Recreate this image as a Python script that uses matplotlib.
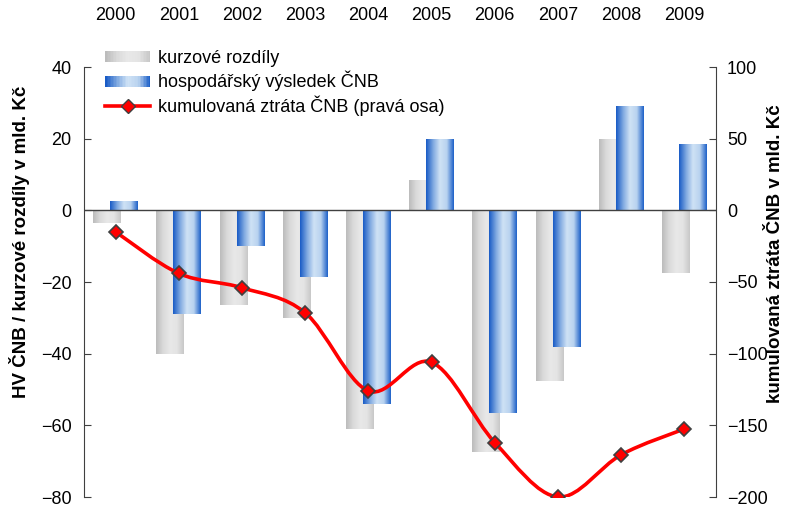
import numpy as np
import matplotlib
matplotlib.use("Agg")
import matplotlib.pyplot as plt
from matplotlib.colors import LinearSegmentedColormap
from matplotlib.patches import Rectangle
from matplotlib.path import Path
from matplotlib.patches import PathPatch
from matplotlib.legend_handler import HandlerBase
from matplotlib.lines import Line2D

plt.rcParams['font.family'] = ['Liberation Sans', 'DejaVu Sans']

# ── Data ──
years = ['2000', '2001', '2002', '2003', '2004', '2005', '2006', '2007', '2008', '2009']
kurzove_rozdily = [-3.5, -40, -26.5, -30, -61, 8.5, -67.5, -47.5, 20, -17.5]
hosp_vysledek = [2.5, -29, -10, -18.5, -54, 20, -56.5, -38, 29, 18.5]
kumulovana_ztrata = [-15, -44, -54, -71.5, -126, -106, -162, -200, -170.5, -152.5]

GREY_CMAP = LinearSegmentedColormap.from_list(
    'grey_grad', ['#bcbcbc', '#dadada', '#e8e8e8', '#e4e4e4', '#c8c8c8'])
BLUE_CMAP = LinearSegmentedColormap.from_list(
    'blue_grad', ['#1a5cc6', '#7ea8e0', '#cfe2f5', '#b8d2ef', '#1f62c9'])
GRADIENT = np.linspace(0, 1, 64).reshape(1, -1)
FS = 13
W, H = 787, 507


def gradient_bars(ax, xs, heights, width, cmap, zorder):
    for x, h in zip(xs, heights):
        x0 = x - width / 2
        rect = Rectangle((x0, min(0, h)), width, abs(h), facecolor='none',
                         edgecolor='none')
        ax.add_patch(rect)
        im = ax.imshow(GRADIENT, cmap=cmap, aspect='auto', interpolation='bilinear',
                       extent=[x0, x0 + width, min(0, h), max(0, h)], zorder=zorder)
        im.set_clip_path(rect)


class HandlerGradient(HandlerBase):
    def __init__(self, cmap):
        super().__init__()
        self.cmap = cmap

    def create_artists(self, legend, orig_handle, xdescent, ydescent,
                       width, height, fontsize, trans):
        n = 30
        artists = []
        h = height * 0.85
        for i in range(n):
            r = Rectangle((-xdescent + width * i / n, -ydescent + (height - h) / 2),
                          width / n * 1.05, h, facecolor=self.cmap(i / (n - 1)),
                          edgecolor='none', transform=trans)
            artists.append(r)
        return artists


def smooth_path(xs, ys):
    # Excel-like smoothed line: cubic Bezier segments through each point
    pts = np.column_stack([xs, ys]).astype(float)
    verts = [pts[0]]
    codes = [Path.MOVETO]
    n = len(pts)
    for i in range(n - 1):
        p_prev = pts[i - 1] if i > 0 else pts[i]
        p_next2 = pts[i + 2] if i + 2 < n else pts[i + 1]
        c1 = pts[i] + (pts[i + 1] - p_prev) / 6
        c2 = pts[i + 1] - (p_next2 - pts[i]) / 6
        verts += [c1, c2, pts[i + 1]]
        codes += [Path.CURVE4] * 3
    return Path(verts, codes)


# ── Figure ──
fig = plt.figure(figsize=(W / 100, H / 100), dpi=100)
ax = fig.add_axes([84 / W, 10 / H, 632 / W, 430 / H])
ax2 = ax.twinx()

x = np.arange(len(years))
bar_w = 0.44
off = 0.135
gradient_bars(ax, x - off, kurzove_rozdily, bar_w, GREY_CMAP, zorder=2)
gradient_bars(ax, x + off, hosp_vysledek, bar_w, BLUE_CMAP, zorder=3)
ax.axhline(0, color='#404040', lw=1, zorder=4)

ax.set_xlim(-0.5, len(years) - 0.5)
ax.set_ylim(-80, 40)
ax.set_yticks(np.arange(-80, 41, 20))
ax.set_xticks(x)
ax.set_xticklabels(years)
ax.xaxis.tick_top()
ax.tick_params(axis='x', length=0, pad=31, labelsize=FS)
ax.tick_params(axis='y', direction='in', length=5, labelsize=FS, pad=9,
               color='#404040')
for s in ['top', 'bottom', 'right']:
    ax.spines[s].set_visible(False)
ax.spines['left'].set_color('#404040')

# ── Cumulative loss (right axis) ──
ax2.add_patch(PathPatch(smooth_path(x, kumulovana_ztrata), facecolor='none',
                        edgecolor='#ff0000', lw=2.6, zorder=5))
ax2.plot(x, kumulovana_ztrata, linestyle='none', marker='D', markersize=7,
         markerfacecolor='#ff0000', markeredgecolor='#404040',
         markeredgewidth=1.2, zorder=6)
ax2.set_ylim(-200, 100)
ax2.set_yticks(np.arange(-200, 101, 50))
ax2.tick_params(axis='y', direction='in', length=5, labelsize=FS, pad=8,
                color='#404040')
for s in ['top', 'bottom', 'left']:
    ax2.spines[s].set_visible(False)
ax2.spines['right'].set_color('#404040')

# ── Axis titles ──
fig.text(20 / W, 1 - 242 / H, 'HV ČNB / kurzové rozdíly v mld. Kč', rotation=90,
         ha='center', va='center', fontsize=13.5, fontweight='bold')
fig.text(776 / W, 1 - 254 / H, 'kumulovaná ztráta ČNB v mld. Kč', rotation=90,
         ha='center', va='center', fontsize=13.5, fontweight='bold')

# ── Legend ──
h_grey = Rectangle((0, 0), 1, 1)
h_blue = Rectangle((0, 0), 1, 1)
h_line = Line2D([], [], color='#ff0000', lw=2.6, marker='D', markersize=7,
                markerfacecolor='#ff0000', markeredgecolor='#404040')
ax2.legend([h_grey, h_blue, h_line],
           ['kurzové rozdíly', 'hospodářský výsledek ČNB',
            'kumulovaná ztráta ČNB (pravá osa)'],
           handler_map={h_grey: HandlerGradient(GREY_CMAP),
                        h_blue: HandlerGradient(BLUE_CMAP)},
           loc='upper left', bbox_to_anchor=(105 / W, 1 - 50 / H),
           bbox_transform=fig.transFigure, frameon=False, fontsize=FS,
           handlelength=2.5, handletextpad=0.45, labelspacing=0.22,
           borderpad=0, borderaxespad=0)

fig.savefig('out.png', dpi=100)
